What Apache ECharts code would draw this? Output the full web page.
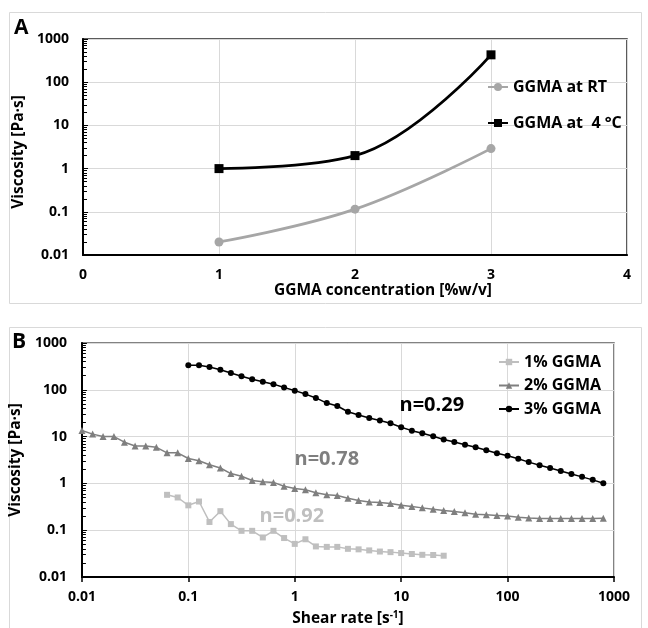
<!DOCTYPE html>
<html><head><meta charset="utf-8">
<script src="https://cdn.jsdelivr.net/npm/echarts@6/dist/echarts.min.js"></script>
<style>html,body{margin:0;padding:0;background:#fff}#c{width:648px;height:628px}</style>
</head><body><div id="c"></div>
<script>
// ---- Panel A data ----
const concA = [1, 2, 3];
const viscRT = [0.02, 0.115, 2.9];
const visc4C = [1.0, 2.0, 430];
const namesA = ['GGMA at RT', 'GGMA at  4 °C'];

// ---- Panel B data ----
const shearRate = [0.01, 0.0126, 0.0158, 0.02, 0.0251, 0.0316, 0.0398, 0.0501, 0.0631, 0.0794,
  0.1, 0.126, 0.158, 0.2, 0.251, 0.316, 0.398, 0.501, 0.631, 0.794,
  1, 1.26, 1.58, 2, 2.51, 3.16, 3.98, 5.01, 6.31, 7.94,
  10, 12.6, 15.8, 20, 25.1, 31.6, 39.8, 50.1, 63.1, 79.4,
  100, 126, 158, 200, 251, 316, 398, 501, 631, 794];
const rate1 = shearRate.slice(8, 35);
const rate2 = shearRate.slice(0, 50);
const rate3 = shearRate.slice(10, 50);
const visc1 = [0.57, 0.5, 0.34, 0.41, 0.15, 0.255, 0.135, 0.097, 0.097, 0.07, 0.097, 0.068, 0.051,
  0.064, 0.045, 0.044, 0.044, 0.04, 0.039, 0.037, 0.035, 0.034, 0.0325, 0.031, 0.0298, 0.0295, 0.0285];
const visc2 = [13.5, 11.3, 10, 10, 7.6, 6.3, 6.3, 5.9, 4.5, 4.5,
  3.4, 3.04, 2.5, 2.13, 1.62, 1.42, 1.15, 1.08, 1.05, 0.87,
  0.78, 0.73, 0.63, 0.575, 0.55, 0.48, 0.43, 0.40, 0.39, 0.37,
  0.34, 0.32, 0.30, 0.28, 0.265, 0.25, 0.235, 0.22, 0.214, 0.207,
  0.2, 0.19, 0.182, 0.178, 0.178, 0.178, 0.178, 0.178, 0.178, 0.18];
const visc3 = [333, 333, 307, 269, 229, 195, 168, 148, 132, 112,
  96, 81, 67, 52, 45, 34, 29, 25, 22, 19.3,
  15.8, 13.4, 11.8, 10.2, 8.7, 7.65, 6.7, 5.9, 5.1, 4.4,
  3.9, 3.35, 2.85, 2.45, 2.13, 1.84, 1.59, 1.38, 1.19, 1.01];
const namesB = ['1% GGMA', '2% GGMA', '3% GGMA'];
const nLabels = ['n=0.92', 'n=0.78', 'n=0.29'];
const nLabelAt = [[0.94, 0.2], [2.0, 3.2], [19.4, 47]];

const FONT = '"Open Sans", "Noto Sans", sans-serif';
const fmt = v => String(Number(Number(v).toPrecision(6)));
const zip = (a, b) => a.map((x, i) => [x, b[i]]);

const tickLbl = {fontFamily: FONT, fontWeight: 'bold', fontSize: 14, color: '#000'};
const titleTxt = {fontFamily: FONT, fontWeight: 'bold', fontSize: 15.5, color: '#000'};
const grid = {lineStyle: {color: '#d9d9d9', width: 1}};
const legTxt = {fontFamily: FONT, fontWeight: 'bold', fontSize: 16, color: '#000', lineHeight: 18};

function nMark(i, color) {
  return {symbol: 'circle', symbolSize: 0, silent: true,
    data: [{coord: nLabelAt[i], label: {show: true, formatter: nLabels[i], position: 'inside',
      fontFamily: FONT, fontWeight: 'bold', fontSize: 20, color: color}}]};
}

const chart = echarts.init(document.getElementById('c'), null, {renderer: 'canvas'});
chart.setOption({
  animation: false,
  backgroundColor: '#fff',
  graphic: [
    {type: 'rect', shape: {x: 9.5, y: 12.5, width: 632, height: 291}, style: {fill: 'none', stroke: '#d9d9d9', lineWidth: 1}},
    {type: 'rect', shape: {x: 9.5, y: 327.5, width: 632, height: 320}, style: {fill: 'none', stroke: '#d9d9d9', lineWidth: 1}},
    {type: 'text', left: 14, top: 18, style: {text: 'A', fontFamily: FONT, fontWeight: 'bold', fontSize: 21, fill: '#000'}},
    {type: 'text', left: 12, top: 332, style: {text: 'B', fontFamily: FONT, fontWeight: 'bold', fontSize: 21, fill: '#000'}}
  ],
  grid: [
    {left: 83, top: 39, width: 544, height: 216, show: true, borderColor: '#262626', borderWidth: 1.5, backgroundColor: 'transparent'},
    {left: 77, top: 343, width: 537, height: 237, show: true, borderColor: '#595959', borderWidth: 1.5, backgroundColor: 'transparent'}
  ],
  legend: [
    {data: namesA, orient: 'vertical', left: 487, top: 78, padding: 0, itemWidth: 20, itemHeight: 10, itemGap: 18,
      textStyle: legTxt},
    {data: namesB, orient: 'vertical', left: 498, top: 353, padding: 0, itemWidth: 20, itemHeight: 8, itemGap: 5.5,
      textStyle: legTxt}
  ],
  xAxis: [
    {gridIndex: 0, type: 'value', min: 0, max: 4, interval: 1,
      axisLine: {lineStyle: {color: '#000', width: 2}}, axisTick: {show: false},
      axisLabel: Object.assign({margin: 13, formatter: fmt}, tickLbl), splitLine: grid,
      name: 'GGMA concentration [%w/v]', nameLocation: 'middle', nameGap: 28,
      nameTextStyle: Object.assign({padding: [0, 0, 0, 56]}, titleTxt)},
    {gridIndex: 1, type: 'log', logBase: 10, min: 0.01, max: 1000,
      axisLine: {lineStyle: {color: '#000', width: 2}}, axisTick: {show: true, length: 5, lineStyle: {color: '#000', width: 1.5}},
      axisLabel: Object.assign({margin: 13, formatter: fmt}, tickLbl), splitLine: grid,
      name: 'Shear rate [s{sup|-1}]', nameLocation: 'middle', nameGap: 33,
      nameTextStyle: Object.assign({rich: {sup: {fontFamily: FONT, fontWeight: 'bold', fontSize: 10, verticalAlign: 'top', padding: [0, 0, 8, 0], color: '#000'}}}, titleTxt)}
  ],
  yAxis: [
    {gridIndex: 0, type: 'log', logBase: 10, min: 0.01, max: 1000,
      axisLine: {lineStyle: {color: '#000', width: 2}},
      axisTick: {show: true, inside: true, length: 5, lineStyle: {color: '#000'}},
      minorTick: {show: true, splitNumber: 9, length: 4, lineStyle: {color: '#000'}},
      axisLabel: Object.assign({margin: 14, formatter: fmt}, tickLbl), splitLine: grid,
      name: 'Viscosity [Pa·s]', nameLocation: 'middle', nameGap: 37,
      nameTextStyle: Object.assign({padding: [0, 10, 0, 0]}, titleTxt)},
    {gridIndex: 1, type: 'log', logBase: 10, min: 0.01, max: 1000,
      axisLine: {lineStyle: {color: '#000', width: 2}},
      axisTick: {show: true, inside: true, length: 5, lineStyle: {color: '#000'}},
      minorTick: {show: true, splitNumber: 9, length: 4, lineStyle: {color: '#000'}},
      axisLabel: Object.assign({margin: 15, formatter: fmt}, tickLbl), splitLine: grid,
      name: 'Viscosity [Pa·s]', nameLocation: 'middle', nameGap: 36, nameTextStyle: titleTxt}
  ],
  series: [
    {name: namesA[0], type: 'line', xAxisIndex: 0, yAxisIndex: 0, data: zip(concA, viscRT), smooth: 0.4,
      symbol: 'circle', symbolSize: 9, itemStyle: {color: '#a6a6a6'}, lineStyle: {color: '#a6a6a6', width: 2.8}},
    {name: namesA[1], type: 'line', xAxisIndex: 0, yAxisIndex: 0, data: zip(concA, visc4C), smooth: 0.4,
      symbol: 'rect', symbolSize: 9, itemStyle: {color: '#000'}, lineStyle: {color: '#000', width: 2.8}},
    {name: namesB[0], type: 'line', xAxisIndex: 1, yAxisIndex: 1, data: zip(rate1, visc1),
      symbol: 'rect', symbolSize: 6, itemStyle: {color: '#bfbfbf'}, lineStyle: {color: '#bfbfbf', width: 1.5},
      markPoint: nMark(0, '#bfbfbf')},
    {name: namesB[1], type: 'line', xAxisIndex: 1, yAxisIndex: 1, data: zip(rate2, visc2),
      symbol: 'triangle', symbolSize: 7, itemStyle: {color: '#7f7f7f'}, lineStyle: {color: '#7f7f7f', width: 1.5},
      markPoint: nMark(1, '#7f7f7f')},
    {name: namesB[2], type: 'line', xAxisIndex: 1, yAxisIndex: 1, data: zip(rate3, visc3),
      symbol: 'circle', symbolSize: 6, itemStyle: {color: '#000'}, lineStyle: {color: '#000', width: 1.5},
      markPoint: nMark(2, '#000')}
  ]
});
</script></body></html>
